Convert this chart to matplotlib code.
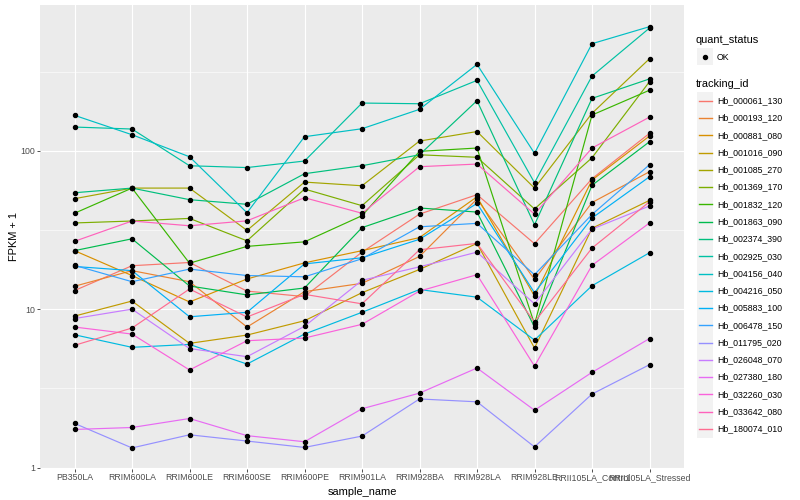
import numpy as np
import matplotlib
matplotlib.use('Agg')
import matplotlib.pyplot as plt
from matplotlib.patches import Rectangle
from matplotlib.lines import Line2D
from matplotlib.ticker import FixedLocator, NullFormatter

plt.rcParams['font.family'] = ['Liberation Sans', 'DejaVu Sans']

samples = ['PB350LA', 'RRIM600LA', 'RRIM600LE', 'RRIM600SE', 'RRIM600PE', 'RRIM901LA',
           'RRIM928BA', 'RRIM928LA', 'RRIM928LE', 'RRII105LA_Control', 'RRII105LA_Stressed']

# FPKM + 1 por gen, un valor por muestra
hb_000061_130 = [13.1, 18.8, 19.7, 13.0, 12.0, 22.9, 39.8, 52.8, 25.9, 66.6, 128.8]
hb_000193_120 = [13.95, 17.5, 14.9, 7.71, 12.9, 14.55, 21.5, 49.6, 15.4, 47.1, 73.7]
hb_000881_080 = [23.4, 16.3, 11.1, 15.5, 19.6, 23.4, 28.3, 51.2, 12.1, 65.3, 123.8]
hb_001016_090 = [9.04, 11.25, 6.08, 6.86, 8.45, 12.7, 17.8, 26.0, 5.68, 32.4, 48.6]
hb_001085_270 = [49.8, 58.1, 58.1, 31.4, 63.4, 60.1, 115.1, 132.2, 58.1, 172.2, 381]
hb_001369_170 = [35.0, 36.0, 37.4, 27.0, 57.3, 45.0, 94.3, 90.9, 42.9, 90.3, 273]
hb_001832_120 = [40.3, 58.1, 19.5, 24.9, 26.6, 38.9, 99.1, 104, 8.05, 168, 241]
hb_001863_090 = [23.4, 27.8, 14.0, 12.3, 13.6, 32.7, 43.5, 41.0, 7.71, 60.5, 114]
hb_002374_390 = [54.3, 58.1, 49.1, 45.9, 71.6, 80.4, 94.3, 207, 34.1, 214, 284]
hb_002925_030 = [141.1, 137.1, 80.4, 78.3, 86.1, 200, 198, 278, 62.8, 296, 595]
hb_004156_040 = [167.3, 126.2, 91.6, 40.6, 122.6, 137.7, 182.5, 351, 96.3, 474, 607]
hb_004216_050 = [6.89, 5.74, 5.99, 4.50, 6.96, 9.55, 13.3, 11.9, 6.38, 14.05, 22.7]
hb_005883_100 = [18.6, 17.5, 8.95, 9.55, 19.3, 21.1, 27.6, 46.5, 12.7, 37.6, 68.5]
hb_006478_150 = [18.9, 14.9, 17.9, 16.3, 16.0, 20.8, 33.1, 34.8, 16.5, 39.6, 81.6]
hb_011795_020 = [1.90, 1.33, 1.61, 1.47, 1.34, 1.58, 2.71, 2.60, 1.35, 2.91, 4.46]
hb_026048_070 = [8.72, 10.0, 5.64, 5.01, 7.79, 15.2, 18.5, 22.9, 10.8, 32.0, 44.8]
hb_027380_180 = [1.74, 1.79, 2.04, 1.59, 1.455, 2.35, 2.95, 4.25, 2.30, 3.99, 6.52]
hb_032260_030 = [7.71, 6.96, 4.13, 6.32, 6.57, 8.02, 13.0, 16.5, 4.37, 18.9, 35.0]
hb_033642_080 = [26.8, 36.0, 33.6, 36.1, 50.5, 40.3, 79.3, 82.4, 39.8, 104, 163]
hb_180074_010 = [5.91, 7.60, 13.4, 8.92, 12.4, 10.8, 23.7, 26.0, 8.29, 24.3, 47.6]

tracking_ids = ['Hb_000061_130', 'Hb_000193_120', 'Hb_000881_080', 'Hb_001016_090',
                'Hb_001085_270', 'Hb_001369_170', 'Hb_001832_120', 'Hb_001863_090',
                'Hb_002374_390', 'Hb_002925_030', 'Hb_004156_040', 'Hb_004216_050',
                'Hb_005883_100', 'Hb_006478_150', 'Hb_011795_020', 'Hb_026048_070',
                'Hb_027380_180', 'Hb_032260_030', 'Hb_033642_080', 'Hb_180074_010']
series = [hb_000061_130, hb_000193_120, hb_000881_080, hb_001016_090, hb_001085_270,
          hb_001369_170, hb_001832_120, hb_001863_090, hb_002374_390, hb_002925_030,
          hb_004156_040, hb_004216_050, hb_005883_100, hb_006478_150, hb_011795_020,
          hb_026048_070, hb_027380_180, hb_032260_030, hb_033642_080, hb_180074_010]

# paleta hue de ggplot para 20 niveles
colors = ['#F8766D', '#EA8331', '#D89000', '#C09B00', '#A3A500', '#7CAE00', '#39B600',
          '#00BB4E', '#00BF7D', '#00C1A3', '#00BFC4', '#00BAE0', '#00B0F6', '#35A2FF',
          '#9590FF', '#C77CFF', '#E76BF3', '#FA62DB', '#FF62BC', '#FF6C91']

W, H = 800, 500
fig = plt.figure(figsize=(8, 5), dpi=100)
ax = fig.add_axes([40 / W, (H - 468.5) / H, (684 - 40) / W, (468.5 - 5) / H])
ax.set_facecolor('#EBEBEB')
for s in ax.spines.values():
    s.set_visible(False)

for vals, c in zip(series, colors):
    ax.plot(samples, vals, color=c, lw=0.85, zorder=3)
for vals in series:
    ax.plot(samples, vals, ls='none', marker='o', ms=2.9, color='black', zorder=4)

ax.set_yscale('log')
ax.set_ylim(10 ** -0.006, 10 ** 2.92)
ax.set_xlim(-0.6, len(samples) - 0.4)
ax.yaxis.set_major_locator(FixedLocator([1, 10, 100]))
ax.set_yticklabels(['1', '10', '100'])
ax.yaxis.set_minor_locator(FixedLocator([10 ** 0.5, 10 ** 1.5, 10 ** 2.5]))
ax.yaxis.set_minor_formatter(NullFormatter())
ax.grid(which='major', color='white', lw=0.8, zorder=0)
ax.grid(which='minor', axis='y', color='white', lw=0.4, zorder=0)
ax.set_axisbelow(True)
ax.tick_params(which='major', length=2, width=0.6, color='#333333',
               labelsize=6.3, labelcolor='#4D4D4D', pad=1.6)
ax.tick_params(which='minor', length=0)

ax.set_xlabel('sample_name', fontsize=7.9, labelpad=3.5)
ax.set_ylabel('FPKM + 1', fontsize=7.9, labelpad=1)

# leyenda (coordenadas en pixeles de la figura)
def fx(px):
    return px / W

def fy(py):
    return 1 - py / H

fig.text(fx(696), fy(40), 'quant_status', fontsize=7.9, va='center', ha='left')
fig.add_artist(Rectangle((fx(697), fy(65)), 16 / W, 17 / H, transform=fig.transFigure,
                         facecolor='#F2F2F2', edgecolor='none'))
fig.add_artist(Line2D([fx(705)], [fy(56.5)], marker='o', ms=2.9, color='black',
                      transform=fig.transFigure))
fig.text(fx(717), fy(57), 'OK', fontsize=6.3, va='center', ha='left')

fig.text(fx(696), fy(84), 'tracking_id', fontsize=7.9, va='center', ha='left')
key_h = 17.28
for i, (tid, c) in enumerate(zip(tracking_ids, colors)):
    yc = 100.7 + i * key_h
    fig.add_artist(Rectangle((fx(697), fy(yc + key_h / 2)), 16 / W, key_h / H,
                             transform=fig.transFigure, facecolor='#F2F2F2',
                             edgecolor='none'))
    fig.add_artist(Line2D([fx(698.5), fx(711.5)], [fy(yc), fy(yc)], color=c, lw=1.0,
                          transform=fig.transFigure))
    fig.text(fx(717), fy(yc), tid, fontsize=6.3, va='center', ha='left')

fig.savefig('out.png', dpi=100)
